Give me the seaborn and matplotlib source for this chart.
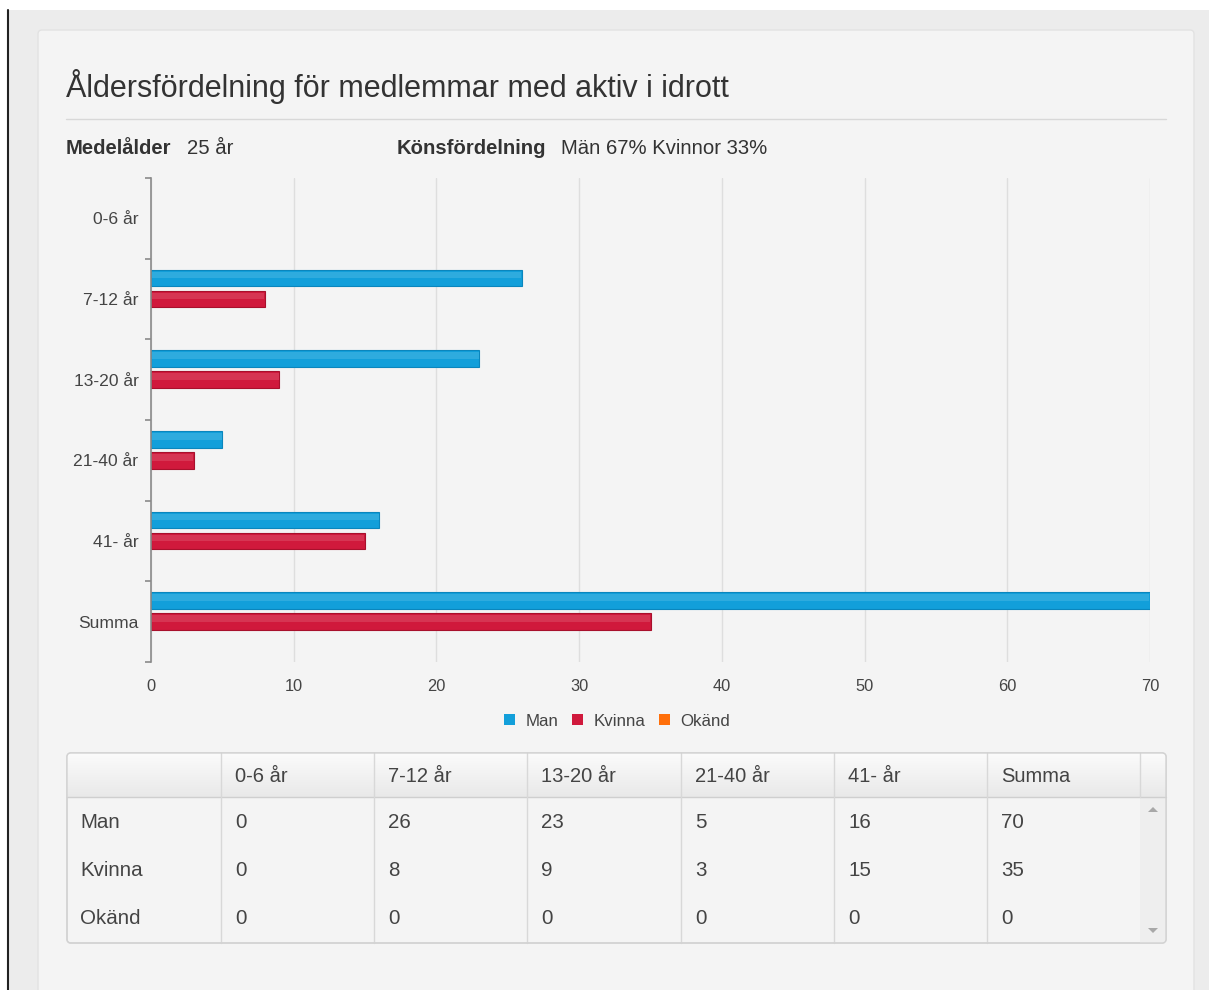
import numpy as np
import pandas as pd
import matplotlib.pyplot as plt
from matplotlib.patches import FancyBboxPatch, Rectangle, Polygon, Patch
import matplotlib.colors as mcolors
import seaborn as sns

# data
categories = ["0-6 år", "7-12 år", "13-20 år", "21-40 år", "41- år", "Summa"]
series = ["Man", "Kvinna", "Okänd"]
man = [0, 26, 23, 5, 16, 70]
kvinna = [0, 8, 9, 3, 15, 35]
okand = [0, 0, 0, 0, 0, 0]
colors = ["#129fda", "#d0193c", "#ff6f0a"]
edges = ["#0a86bd", "#a8102c", "#d95a00"]

title = "Åldersfördelning för medlemmar med aktiv i idrott"
medelalder = "25 år"
konsfordelning = "Män 67% Kvinnor 33%"

df = pd.DataFrame({
    "Ålder": categories * 3,
    "Antal": man + kvinna + okand,
    "Kön": [s for s in series for _ in categories],
})

sns.set_style("white")
plt.rcParams["font.family"] = ["Liberation Sans", "DejaVu Sans"]

W, H = 1209, 990
fig = plt.figure(figsize=(W / 100, H / 100), dpi=100, facecolor="white")

# background layer in pixel coordinates
bg = fig.add_axes([0, 0, 1, 1], zorder=0)
bg.set_xlim(0, W)
bg.set_ylim(H, 0)
bg.axis("off")
bg.add_patch(Rectangle((8, 10), W - 8, H - 10, facecolor="#ececec", edgecolor="none"))
bg.plot([8, 8], [10, H], color="#222222", lw=1.5)
bg.add_patch(FancyBboxPatch((38, 30), 1156, 980, boxstyle="round,pad=0,rounding_size=4",
                            facecolor="#f4f4f4", edgecolor="#e2e2e2", lw=1))

txt = "#333333"
bg.text(66, 87, title, fontsize=22, color=txt, va="center", ha="left")
bg.plot([66, 1166], [119, 119], color="#d8d8d8", lw=1)
bg.text(66, 149, "Medelålder", fontsize=14.6, fontweight="bold", color=txt, va="center")
bg.text(187, 149, medelalder, fontsize=14.6, color=txt, va="center")
bg.text(397, 149, "Könsfördelning", fontsize=14.6, fontweight="bold", color=txt, va="center")
bg.text(561, 149, konsfordelning, fontsize=14.6, color=txt, va="center")

# bar chart
ax = fig.add_axes([151 / W, 1 - 662 / H, (1150 - 151) / W, (662 - 178) / H], zorder=1)
ax.set_facecolor("none")
sns.barplot(data=df, y="Ålder", x="Antal", hue="Kön", order=categories, hue_order=series,
            palette=colors, orient="h", width=0.78, gap=0.2, saturation=1,
            legend=False, ax=ax)
for cont, c, e in zip(ax.containers, colors, edges):
    light = mcolors.to_rgb(c)
    light = tuple(v + (1 - v) * 0.12 for v in light)
    for p in cont:
        if p.get_width() <= 0:
            p.set_linewidth(0)
            continue
        p.set_edgecolor(e)
        p.set_linewidth(0.8)
        ax.add_patch(Rectangle((p.get_x() + 0.05, p.get_y() + p.get_height() * 0.12),
                               p.get_width() - 0.1, p.get_height() * 0.4,
                               facecolor=light, edgecolor="none", zorder=p.get_zorder() + 0.1))

ax.set_xlim(0, 70)
ax.set_ylim(len(categories) - 0.5, -0.5)
ax.set_xticks(range(0, 71, 10))
ax.set_yticks(range(len(categories)))
ax.set_yticks(np.arange(-0.5, len(categories), 1), minor=True)
ax.set_xlabel("")
ax.set_ylabel("")
ax.xaxis.grid(True, color="#dedede", lw=1)
ax.set_axisbelow(True)
for s in ["top", "right", "bottom"]:
    ax.spines[s].set_visible(False)
ax.spines["left"].set_color("#8a8a8a")
ax.spines["left"].set_linewidth(1.2)
ax.tick_params(axis="x", length=0, pad=12.5, labelsize=11.8, labelcolor="#444444")
ax.tick_params(axis="y", which="major", left=True, length=0, pad=9, labelsize=12.6,
               labelcolor="#444444")
ax.tick_params(axis="y", which="minor", left=True, length=4, width=1.2, color="#8a8a8a",
               direction="out")

handles = [Patch(facecolor=c, edgecolor="none") for c in colors]
fig.legend(handles, series, loc="center", bbox_to_anchor=(617 / W, 1 - 721 / H), ncol=3,
           frameon=False, fontsize=12.2, labelcolor="#444444", handlelength=0.65,
           handleheight=0.65, handletextpad=0.6, columnspacing=0.8)

# table
cols = [67, 221, 374, 527, 681, 834, 987, 1140, 1166]
top, head_bot, bot = 753, 797, 943
frame = FancyBboxPatch((cols[0], top), cols[-1] - cols[0], bot - top,
                       boxstyle="round,pad=0,rounding_size=4",
                       facecolor="#f4f4f4", edgecolor="#d2d2d2", lw=1, zorder=2)
bg.add_patch(frame)
grad = np.linspace(0, 1, 50)[:, None]
cmap = mcolors.LinearSegmentedColormap.from_list("hdr", ["#fbfbfb", "#e9e9e9"])
im = bg.imshow(grad, cmap=cmap, aspect="auto", extent=(cols[0], cols[-1], head_bot, top), zorder=2.1)
im.set_clip_path(frame)
bg.set_xlim(0, W)
bg.set_ylim(H, 0)
bg.add_patch(Rectangle((cols[-2], head_bot), cols[-1] - cols[-2], bot - head_bot,
                       facecolor="#eeeeee", edgecolor="none", zorder=2.1))
bg.plot([cols[0], cols[-1]], [head_bot, head_bot], color="#cfcfcf", lw=1, zorder=2.2)
for x in cols[1:-1]:
    y_end = head_bot if x == cols[-2] else bot
    bg.plot([x, x], [top, y_end], color="#d8d8d8", lw=1, zorder=2.2)
bg.add_patch(FancyBboxPatch((cols[0], top), cols[-1] - cols[0], bot - top,
                            boxstyle="round,pad=0,rounding_size=4",
                            facecolor="none", edgecolor="#d2d2d2", lw=1, zorder=2.3))
for x, lab in zip(cols[1:-2], categories):
    bg.text(x + 14, 776, lab, fontsize=14.5, color="#444444", va="center", zorder=3)
rows = [("Man", man), ("Kvinna", kvinna), ("Okänd", okand)]
for yc, (name, vals) in zip([822, 870, 919], rows):
    bg.text(cols[0] + 13, yc, name, fontsize=14.8, color="#444444", va="center", zorder=3)
    for x, v in zip(cols[1:-2], vals):
        bg.text(x + 14, yc, str(v), fontsize=14.8, color="#444444", va="center", zorder=3)
bg.add_patch(Polygon([[1148, 812], [1158, 812], [1153, 807]], closed=True,
                     facecolor="#a8a8a8", edgecolor="none", zorder=3))
bg.add_patch(Polygon([[1148, 928], [1158, 928], [1153, 933]], closed=True,
                     facecolor="#a8a8a8", edgecolor="none", zorder=3))

fig.savefig("out.png", dpi=100, facecolor=fig.get_facecolor())
